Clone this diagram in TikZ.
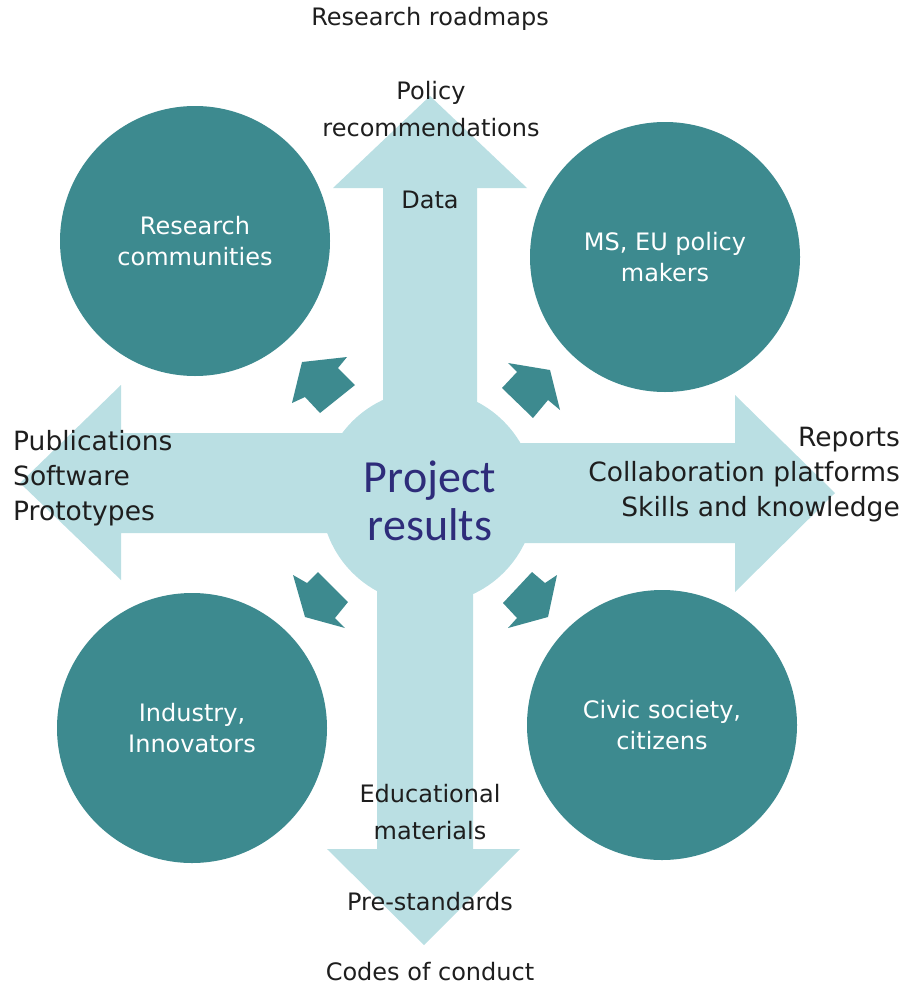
\documentclass[tikz,border=0pt]{standalone}
\usepackage{fontspec}
\setmainfont{DejaVu Sans}
\newfontfamily\calib{Carlito}
\definecolor{teal1}{HTML}{3D8A8F}
\definecolor{light1}{HTML}{BADFE3}
\definecolor{txt1}{HTML}{1E1E1E}
\definecolor{navy1}{HTML}{2E2C7A}
\begin{document}
\begin{tikzpicture}[x=1pt,y=-1pt,
  bigcirc/.style={circle,fill=teal1,minimum size=270pt,inner sep=0pt,text=white,align=center,font=\fontsize{24}{31}\selectfont},
  lbl/.style={text=txt1,align=center,inner sep=0pt,font=\fontsize{24}{37}\selectfont},
  sidelbl/.style={text=txt1,inner sep=0pt,font=\fontsize{26.5}{35}\selectfont},
  smallarrow/.style={fill=teal1,draw=none}]
\useasboundingbox (0,0) rectangle (903,985);
% big cross arrows
\fill[light1] (383,497) -- (383,188) -- (333,188) -- (430,96) -- (527,188) -- (477,188) -- (477,497) -- cycle;
\fill[light1] (377,497) -- (377,849) -- (327,849) -- (424,945) -- (520,849) -- (473,849) -- (473,497) -- cycle;
\fill[light1] (428,433) -- (121,433) -- (121,385) -- (20,483) -- (121,580) -- (121,533) -- (428,533) -- cycle;
\fill[light1] (428,443) -- (735,443) -- (735,395) -- (835,493) -- (735,592) -- (735,543) -- (428,543) -- cycle;
\node[circle,fill=light1,minimum size=214pt,inner sep=0pt] (center) at (428,497) {};
\node[text=navy1,align=center,inner sep=0pt,font=\calib\fontsize{46}{48}\selectfont] (proj) at (430,501) {Project\\results};
% teal circles
\node[bigcirc] (rc) at (195,241) {Research\\communities};
\node[bigcirc] (ms) at (665,257) {MS, EU policy\\makers};
\node[bigcirc] (ind) at (192,728) {Industry,\\Innovators};
\node[bigcirc] (civ) at (662,725) {Civic society,\\citizens};
% small arrows
\fill[smallarrow] (302,362) -- (347,357) -- (338,368) -- (355,385) -- (320,413) -- (305,397) -- (292,403) -- cycle;
\fill[smallarrow] (508,363) -- (550,370) -- (560,410) -- (548,400) -- (533,418) -- (502,388) -- (517,372) -- cycle;
\fill[smallarrow] (293,575) -- (307,583) -- (318,572) -- (348,602) -- (335,618) -- (345,628) -- (305,617) -- cycle;
\fill[smallarrow] (557,575) -- (548,617) -- (508,628) -- (517,618) -- (503,603) -- (532,572) -- (545,583) -- cycle;
% labels
\node[lbl] (rr) at (430,19) {Research roadmaps};
\node[lbl] (pr) at (431,109) {Policy\\recommendations};
\node[lbl] (data) at (430,200) {Data};
\node[lbl] (edu) at (430,812) {Educational\\materials};
\node[lbl] (pre) at (430,902) {Pre-standards};
\node[lbl] (codes) at (430,972) {Codes of conduct};
\node[sidelbl,anchor=west,align=left] (left) at (13,478) {Publications\\Software\\Prototypes};
\node[sidelbl,anchor=east,align=right] (right) at (900,475) {Reports\\Collaboration platforms\\Skills and knowledge};
\end{tikzpicture}
\end{document}
